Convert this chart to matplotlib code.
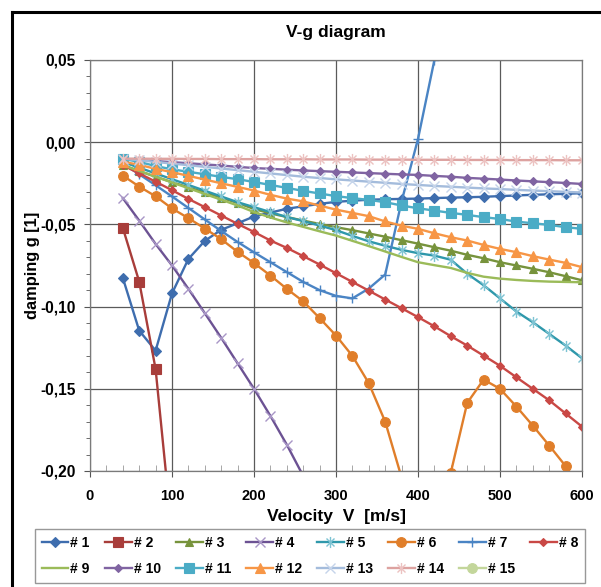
import matplotlib
matplotlib.use('Agg')
import matplotlib.pyplot as plt
from matplotlib.path import Path
from matplotlib.lines import Line2D
from matplotlib.ticker import MultipleLocator, FuncFormatter

plt.rcParams['font.family'] = ['Liberation Sans', 'DejaVu Sans']
plt.rcParams['font.weight'] = 'bold'

# flutter run: damping of the 15 modes against flight speed
speed = [40, 60, 80, 100, 120, 140, 160, 180, 200, 220, 240, 260, 280, 300, 320,
         340, 360, 380, 400, 420, 440, 460, 480, 500, 520, 540, 560, 580, 600]
speed_2 = [40, 60, 80, 100]
speed_4 = [40, 60, 80, 100, 120, 140, 160, 180, 200, 220, 240, 260, 280]
speed_7 = [40, 60, 80, 100, 120, 140, 160, 180, 200, 220, 240, 260, 280, 300,
           320, 340, 360, 380, 400, 420]

g1 = [-0.0825, -0.1146, -0.1268, -0.0920, -0.0710, -0.0600, -0.0533, -0.0493, -0.0452,
      -0.0428, -0.0405, -0.0390, -0.0375, -0.0363, -0.0356, -0.0350, -0.0347, -0.0345,
      -0.0343, -0.0340, -0.0337, -0.0335, -0.0332, -0.0328, -0.0324, -0.0320, -0.0317,
      -0.0314, -0.0310]
g2 = [-0.0521, -0.0848, -0.1380, -0.2380]
g3 = [-0.0140, -0.0175, -0.0210, -0.0243, -0.0275, -0.0305, -0.0337, -0.0370, -0.0406,
      -0.0433, -0.0455, -0.0477, -0.0497, -0.0517, -0.0535, -0.0555, -0.0575, -0.0596,
      -0.0617, -0.0639, -0.0660, -0.0685, -0.0706, -0.0730, -0.0750, -0.0770, -0.0791,
      -0.0815, -0.0840]
g4 = [-0.0340, -0.0477, -0.0619, -0.0750, -0.0892, -0.1040, -0.1190, -0.1345, -0.1500,
      -0.1665, -0.1840, -0.2030, -0.2230]
g5 = [-0.0120, -0.0155, -0.0190, -0.0225, -0.0260, -0.0295, -0.0330, -0.0365, -0.0395,
      -0.0425, -0.0455, -0.0480, -0.0507, -0.0535, -0.0570, -0.0603, -0.0630, -0.0655,
      -0.0675, -0.0690, -0.0715, -0.0800, -0.0870, -0.0950, -0.1030, -0.1095, -0.1166,
      -0.1237, -0.1314]
g6 = [-0.0203, -0.0270, -0.0329, -0.0403, -0.0462, -0.0525, -0.0590, -0.0667, -0.0735,
      -0.0811, -0.0892, -0.0968, -0.1070, -0.1176, -0.1300, -0.1466, -0.1700, -0.2040,
      -0.2500, -0.2500, -0.2010, -0.1586, -0.1444, -0.1500, -0.1608, -0.1724, -0.1845,
      -0.1970, -0.2120]
g7 = [-0.0130, -0.0195, -0.0262, -0.0330, -0.0400, -0.0470, -0.0540, -0.0607, -0.0670,
      -0.0730, -0.0790, -0.0850, -0.0900, -0.0935, -0.0950, -0.0890, -0.0805, -0.0360,
      0.0020, 0.0500]
g8 = [-0.0140, -0.0190, -0.0240, -0.0292, -0.0345, -0.0395, -0.0446, -0.0497, -0.0546,
      -0.0598, -0.0643, -0.0693, -0.0744, -0.0797, -0.0850, -0.0903, -0.0957, -0.1010,
      -0.1064, -0.1120, -0.1180, -0.1237, -0.1298, -0.1360, -0.1430, -0.1500, -0.1570,
      -0.1650, -0.1730]
g9 = [-0.0140, -0.0175, -0.0210, -0.0245, -0.0280, -0.0315, -0.0350, -0.0385, -0.0425,
      -0.0458, -0.0488, -0.0515, -0.0542, -0.0568, -0.0600, -0.0632, -0.0665, -0.0698,
      -0.0730, -0.0748, -0.0765, -0.0795, -0.0818, -0.0830, -0.0838, -0.0844, -0.0848,
      -0.0850, -0.0852]
g10 = [-0.0105, -0.0110, -0.0115, -0.0121, -0.0128, -0.0135, -0.0142, -0.0150, -0.0157,
       -0.0162, -0.0167, -0.0172, -0.0176, -0.0180, -0.0184, -0.0188, -0.0192, -0.0196,
       -0.0199, -0.0205, -0.0210, -0.0217, -0.0222, -0.0227, -0.0233, -0.0238, -0.0243,
       -0.0248, -0.0254]
g11 = [-0.0100, -0.0120, -0.0145, -0.0165, -0.0180, -0.0195, -0.0211, -0.0225, -0.0242,
       -0.0260, -0.0278, -0.0296, -0.0312, -0.0328, -0.0340, -0.0351, -0.0365, -0.0385,
       -0.0402, -0.0416, -0.0430, -0.0442, -0.0456, -0.0467, -0.0483, -0.0493, -0.0503,
       -0.0517, -0.0527]
g12 = [-0.0118, -0.0138, -0.0162, -0.0182, -0.0205, -0.0227, -0.0250, -0.0272, -0.0294,
       -0.0320, -0.0343, -0.0360, -0.0386, -0.0410, -0.0430, -0.0450, -0.0482, -0.0508,
       -0.0527, -0.0554, -0.0578, -0.0598, -0.0625, -0.0649, -0.0669, -0.0693, -0.0714,
       -0.0734, -0.0760]
g13 = [-0.0100, -0.0110, -0.0120, -0.0130, -0.0140, -0.0150, -0.0160, -0.0170, -0.0180,
       -0.0190, -0.0200, -0.0210, -0.0218, -0.0226, -0.0233, -0.0240, -0.0247, -0.0254,
       -0.0260, -0.0266, -0.0271, -0.0276, -0.0281, -0.0285, -0.0290, -0.0294, -0.0298,
       -0.0302, -0.0306]
g14 = [-0.0100, -0.0100, -0.0101, -0.0101, -0.0102, -0.0102, -0.0103, -0.0103, -0.0103,
       -0.0104, -0.0104, -0.0104, -0.0105, -0.0105, -0.0105, -0.0106, -0.0106, -0.0106,
       -0.0107, -0.0107, -0.0107, -0.0108, -0.0108, -0.0108, -0.0109, -0.0109, -0.0109,
       -0.0110, -0.0110]
g15 = []
labels = ['# 1', '# 2', '# 3', '# 4', '# 5', '# 6', '# 7', '# 8',
          '# 9', '# 10', '# 11', '# 12', '# 13', '# 14', '# 15']

# asterisk marker: x with a vertical bar
star = Path([(0, -1), (0, 1), (-0.72, -0.72), (0.72, 0.72), (-0.72, 0.72), (0.72, -0.72)],
            [Path.MOVETO, Path.LINETO, Path.MOVETO, Path.LINETO, Path.MOVETO, Path.LINETO])

# (x, y, line colour, marker, marker size, marker colour, marker edge width)
series = [
    (speed, g1, '#3E6DAE', 'D', 4.6, '#3E6DAE', 0.8),
    (speed_2, g2, '#A83D3A', 's', 7.5, '#A83D3A', 0.8),
    (speed, g3, '#77933C', '^', 6.0, '#77933C', 0.8),
    (speed_4, g4, '#6C5293', 'x', 7.0, '#A896C6', 1.0),
    (speed, g5, '#2F98AB', star, 8.0, '#7DC3D3', 1.0),
    (speed, g6, '#E07E2A', 'o', 7.0, '#E07E2A', 0.8),
    (speed_7, g7, '#4A84C4', '+', 7.0, '#4A84C4', 1.0),
    (speed, g8, '#C94845', 'D', 4.5, '#C94845', 0.8),
    (speed, g9, '#9BBB59', None, 0, '#9BBB59', 0.8),
    (speed, g10, '#8064A2', 'D', 4.5, '#8064A2', 0.8),
    (speed, g11, '#4BACC6', 's', 7.0, '#4BACC6', 0.8),
    (speed, g12, '#F79646', '^', 6.5, '#F79646', 0.8),
    (speed, g13, '#A4BCDC', 'x', 7.0, '#C5D4EA', 1.0),
    (speed, g14, '#DDA2A0', star, 8.0, '#ECC2C1', 1.0),
    ([], g15, '#C3D69B', 'o', 7.0, '#C3D69B', 0.8),
]

fig = plt.figure(figsize=(6.01, 5.87), dpi=100)
ax = fig.add_axes([90 / 601, 1 - 471 / 587, 492 / 601, 411 / 587])

handles = []
for (x, y, col, mk, ms, mcol, mew), lab in zip(series, labels):
    h, = ax.plot(x, y, color=col, lw=1.7, marker=mk, ms=ms, mfc=mcol, mec=mcol,
                 mew=mew, label=lab, clip_on=True)
    handles.append(h)

ax.set_xlim(0, 600)
ax.set_ylim(-0.20, 0.05)
ax.xaxis.set_major_locator(MultipleLocator(100))
ax.xaxis.set_minor_locator(MultipleLocator(20))
ax.yaxis.set_major_locator(MultipleLocator(0.05))
ax.yaxis.set_minor_locator(MultipleLocator(0.01))
ax.yaxis.set_major_formatter(FuncFormatter(lambda v, p: f'{v:.2f}'.replace('.', ',')))
ax.grid(which='major', color='#5a5a5a', lw=0.9)
ax.set_axisbelow(True)
for s in ax.spines.values():
    s.set_color('#7a7a7a')
    s.set_linewidth(0.9)
ax.tick_params(axis='both', which='major', color='#555555', length=4)
ax.tick_params(axis='y', which='major', direction='out', pad=6, labelsize=11.2)
ax.tick_params(axis='x', which='major', direction='out', pad=9, labelsize=10.5)
ax.tick_params(axis='y', which='minor', direction='out', length=3, color='#555555')
ax.tick_params(axis='x', which='minor', direction='in', length=4, color='#999999')
for t in ax.get_xticklabels() + ax.get_yticklabels():
    t.set_fontweight('bold')

fig.text(336 / 601, 1 - 33 / 587, 'V-g diagram', ha='center', va='center',
         fontsize=12.5, fontweight='bold')
fig.text(337 / 601, 1 - 516 / 587, 'Velocity  V  [m/s]', ha='center', va='center',
         fontsize=12.6, fontweight='bold')
fig.text(33 / 601, 1 - 265 / 587, 'damping g [1]', ha='center', va='center',
         rotation=90, fontsize=11.8, fontweight='bold')

# legend filled row by row like the spreadsheet does
order = [0, 8, 1, 9, 2, 10, 3, 11, 4, 12, 5, 13, 6, 14, 7]
leg = fig.legend([handles[i] for i in order], [labels[i] for i in order], ncol=8,
                 loc='lower left', bbox_to_anchor=(35 / 601, 4 / 587, 550 / 601, 55 / 587),
                 mode='expand', borderaxespad=0, fontsize=10, handlelength=1.9,
                 handletextpad=0.15, labelspacing=0.9, borderpad=0.5,
                 fancybox=False, frameon=True)
leg.get_frame().set_edgecolor('#7f7f7f')
leg.get_frame().set_linewidth(1.0)
for t in leg.get_texts():
    t.set_fontweight('bold')

# outer chart border (top and left edges)
fig.add_artist(Line2D([12 / 601, 1], [1 - 12 / 587, 1 - 12 / 587],
                      transform=fig.transFigure, color='black', lw=2.2))
fig.add_artist(Line2D([12 / 601, 12 / 601], [0, 1 - 12 / 587],
                      transform=fig.transFigure, color='black', lw=2.2))

fig.savefig('out.png', dpi=100, facecolor='white')
